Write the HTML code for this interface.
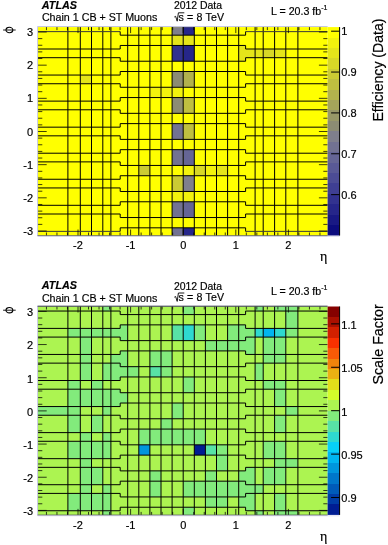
<!DOCTYPE html><html><head><meta charset="utf-8"><style>html,body{margin:0;padding:0;background:#fff;}svg{display:block;will-change:transform;font-family:"Liberation Sans",sans-serif;}text{fill:#000;stroke:#000;stroke-width:0.18px;}</style></head><body>
<svg width="388" height="545" viewBox="0 0 388 545">
<rect width="388" height="545" fill="#fff"/>
<rect x="38.00" y="27.10" width="289.60" height="208.40" fill="#ffff00"/>
<polygon fill="#7f7f8c" points="172.10,27.10 183.20,27.10 183.20,35.18 172.10,35.18"/>
<polygon fill="#26268a" points="183.20,27.10 194.30,27.10 194.30,35.18 183.20,35.18"/>
<polygon fill="#e5e51a" points="172.10,35.18 183.20,35.18 183.20,45.46 172.10,45.46"/>
<polygon fill="#e5e51a" points="183.20,35.18 194.30,35.18 194.30,45.46 183.20,45.46"/>
<polygon fill="#32328f" points="172.10,45.46 183.20,45.46 183.20,61.23 172.10,61.23"/>
<polygon fill="#26268a" points="183.20,45.46 194.30,45.46 194.30,61.23 183.20,61.23"/>
<polygon fill="#8c8c73" points="172.10,71.51 183.20,71.51 183.20,87.28 172.10,87.28"/>
<polygon fill="#b2b24d" points="183.20,71.51 194.30,71.51 194.30,87.28 183.20,87.28"/>
<polygon fill="#f2f20d" points="172.10,87.28 183.20,87.28 183.20,97.56 172.10,97.56"/>
<polygon fill="#ffff00" points="183.20,87.28 194.30,87.28 194.30,97.56 183.20,97.56"/>
<polygon fill="#8c8c73" points="172.10,97.56 183.20,97.56 183.20,113.33 172.10,113.33"/>
<polygon fill="#bfbf40" points="183.20,97.56 194.30,97.56 194.30,113.33 183.20,113.33"/>
<polygon fill="#727292" points="172.10,123.62 183.20,123.62 183.20,139.38 172.10,139.38"/>
<polygon fill="#bfbf40" points="183.20,123.62 194.30,123.62 194.30,139.38 183.20,139.38"/>
<polygon fill="#727292" points="172.10,149.67 183.20,149.67 183.20,165.44 172.10,165.44"/>
<polygon fill="#656595" points="183.20,149.67 194.30,149.67 194.30,165.44 183.20,165.44"/>
<polygon fill="#ffff00" points="172.10,165.44 183.20,165.44 183.20,175.72 172.10,175.72"/>
<polygon fill="#f2f20d" points="183.20,165.44 194.30,165.44 194.30,175.72 183.20,175.72"/>
<polygon fill="#cbcb34" points="172.10,175.72 183.20,175.72 183.20,191.49 172.10,191.49"/>
<polygon fill="#7f7f8c" points="183.20,175.72 194.30,175.72 194.30,191.49 183.20,191.49"/>
<polygon fill="#f2f20d" points="172.10,191.49 183.20,191.49 183.20,201.77 172.10,201.77"/>
<polygon fill="#f2f20d" points="183.20,191.49 194.30,191.49 194.30,201.77 183.20,201.77"/>
<polygon fill="#727292" points="172.10,201.77 183.20,201.77 183.20,217.54 172.10,217.54"/>
<polygon fill="#656595" points="183.20,201.77 194.30,201.77 194.30,217.54 183.20,217.54"/>
<polygon fill="#727292" points="172.10,227.82 183.20,227.82 183.20,235.50 172.10,235.50"/>
<polygon fill="#26268a" points="183.20,227.82 194.30,227.82 194.30,235.50 183.20,235.50"/>
<polygon fill="#f2f20d" points="149.90,87.28 161.00,87.28 161.00,97.56 149.90,97.56"/>
<polygon fill="#f2f20d" points="161.00,87.28 172.10,87.28 172.10,97.56 161.00,97.56"/>
<polygon fill="#d8d827" points="194.30,165.44 205.40,165.44 205.40,175.72 194.30,175.72"/>
<polygon fill="#f2f20d" points="205.40,165.44 216.50,165.44 216.50,175.72 205.40,175.72"/>
<polygon fill="#e5e51a" points="216.50,165.44 227.60,165.44 227.60,175.72 216.50,175.72"/>
<polygon fill="#cbcb34" points="138.80,165.44 149.90,165.44 149.90,175.72 138.80,175.72"/>
<polygon fill="#e5e51a" points="80.30,75.05 91.50,75.05 91.50,83.74 80.30,83.74"/>
<polygon fill="#e5e51a" points="238.70,45.46 245.60,45.46 245.60,49.00 255.10,49.00 255.10,57.69 245.60,57.69 245.60,61.23 238.70,61.23"/>
<polygon fill="#e5e51a" points="255.10,49.00 263.20,49.00 263.20,57.69 255.10,57.69"/>
<polygon fill="#d8d827" points="263.20,49.00 274.60,49.00 274.60,57.69 263.20,57.69"/>
<polygon fill="#e5e51a" points="274.60,49.00 285.80,49.00 285.80,57.69 274.60,57.69"/>
<line x1="67.90" y1="27.10" x2="67.90" y2="235.50" stroke="#000" stroke-width="1.00"/>
<line x1="80.30" y1="27.10" x2="80.30" y2="235.50" stroke="#000" stroke-width="1.00"/>
<line x1="91.50" y1="27.10" x2="91.50" y2="235.50" stroke="#000" stroke-width="1.00"/>
<line x1="102.80" y1="27.10" x2="102.80" y2="235.50" stroke="#000" stroke-width="1.00"/>
<line x1="110.90" y1="27.10" x2="110.90" y2="235.50" stroke="#000" stroke-width="1.00"/>
<line x1="127.70" y1="27.10" x2="127.70" y2="235.50" stroke="#000" stroke-width="1.00"/>
<line x1="138.80" y1="27.10" x2="138.80" y2="235.50" stroke="#000" stroke-width="1.00"/>
<line x1="149.90" y1="27.10" x2="149.90" y2="235.50" stroke="#000" stroke-width="1.00"/>
<line x1="161.00" y1="27.10" x2="161.00" y2="235.50" stroke="#000" stroke-width="1.00"/>
<line x1="172.10" y1="27.10" x2="172.10" y2="235.50" stroke="#000" stroke-width="1.00"/>
<line x1="183.20" y1="27.10" x2="183.20" y2="235.50" stroke="#000" stroke-width="1.00"/>
<line x1="194.30" y1="27.10" x2="194.30" y2="235.50" stroke="#000" stroke-width="1.00"/>
<line x1="205.40" y1="27.10" x2="205.40" y2="235.50" stroke="#000" stroke-width="1.00"/>
<line x1="216.50" y1="27.10" x2="216.50" y2="235.50" stroke="#000" stroke-width="1.00"/>
<line x1="227.60" y1="27.10" x2="227.60" y2="235.50" stroke="#000" stroke-width="1.00"/>
<line x1="238.70" y1="27.10" x2="238.70" y2="235.50" stroke="#000" stroke-width="1.00"/>
<line x1="255.10" y1="27.10" x2="255.10" y2="235.50" stroke="#000" stroke-width="1.00"/>
<line x1="263.20" y1="27.10" x2="263.20" y2="235.50" stroke="#000" stroke-width="1.00"/>
<line x1="274.60" y1="27.10" x2="274.60" y2="235.50" stroke="#000" stroke-width="1.00"/>
<line x1="285.80" y1="27.10" x2="285.80" y2="235.50" stroke="#000" stroke-width="1.00"/>
<line x1="297.90" y1="27.10" x2="297.90" y2="235.50" stroke="#000" stroke-width="1.00"/>
<polyline fill="none" stroke="#3a3a3a" stroke-width="1.00" points="38.00,31.64 120.20,31.64"/>
<polyline fill="none" stroke="#3a3a3a" stroke-width="1.00" points="245.60,31.64 327.60,31.64"/>
<polyline fill="none" stroke="#000" stroke-width="1.00" points="120.20,31.64 120.20,35.18 245.60,35.18 245.60,31.64"/>
<polyline fill="none" stroke="#000" stroke-width="1.00" points="38.00,49.00 120.20,49.00 120.20,45.46 245.60,45.46 245.60,49.00 327.60,49.00"/>
<polyline fill="none" stroke="#000" stroke-width="1.00" points="38.00,57.69 120.20,57.69 120.20,61.23 245.60,61.23 245.60,57.69 327.60,57.69"/>
<polyline fill="none" stroke="#000" stroke-width="1.00" points="38.00,75.05 120.20,75.05 120.20,71.51 245.60,71.51 245.60,75.05 327.60,75.05"/>
<polyline fill="none" stroke="#000" stroke-width="1.00" points="38.00,83.74 120.20,83.74 120.20,87.28 245.60,87.28 245.60,83.74 327.60,83.74"/>
<polyline fill="none" stroke="#000" stroke-width="1.00" points="38.00,101.11 120.20,101.11 120.20,97.56 245.60,97.56 245.60,101.11 327.60,101.11"/>
<polyline fill="none" stroke="#000" stroke-width="1.00" points="38.00,109.79 120.20,109.79 120.20,113.33 245.60,113.33 245.60,109.79 327.60,109.79"/>
<polyline fill="none" stroke="#000" stroke-width="1.00" points="38.00,127.16 120.20,127.16 120.20,123.62 245.60,123.62 245.60,127.16 327.60,127.16"/>
<polyline fill="none" stroke="#000" stroke-width="1.00" points="38.00,135.84 120.20,135.84 120.20,139.38 245.60,139.38 245.60,135.84 327.60,135.84"/>
<polyline fill="none" stroke="#000" stroke-width="1.00" points="38.00,153.21 120.20,153.21 120.20,149.67 245.60,149.67 245.60,153.21 327.60,153.21"/>
<polyline fill="none" stroke="#000" stroke-width="1.00" points="38.00,161.89 120.20,161.89 120.20,165.44 245.60,165.44 245.60,161.89 327.60,161.89"/>
<polyline fill="none" stroke="#000" stroke-width="1.00" points="38.00,179.26 120.20,179.26 120.20,175.72 245.60,175.72 245.60,179.26 327.60,179.26"/>
<polyline fill="none" stroke="#000" stroke-width="1.00" points="38.00,187.95 120.20,187.95 120.20,191.49 245.60,191.49 245.60,187.95 327.60,187.95"/>
<polyline fill="none" stroke="#000" stroke-width="1.00" points="38.00,205.31 120.20,205.31 120.20,201.77 245.60,201.77 245.60,205.31 327.60,205.31"/>
<polyline fill="none" stroke="#000" stroke-width="1.00" points="38.00,214.00 120.20,214.00 120.20,217.54 245.60,217.54 245.60,214.00 327.60,214.00"/>
<polyline fill="none" stroke="#3a3a3a" stroke-width="1.00" points="38.00,231.36 120.20,231.36"/>
<polyline fill="none" stroke="#3a3a3a" stroke-width="1.00" points="245.60,231.36 327.60,231.36"/>
<polyline fill="none" stroke="#000" stroke-width="1.00" points="120.20,231.36 120.20,227.82 245.60,227.82 245.60,231.36"/>
<line x1="38.00" y1="231.01" x2="46.70" y2="231.01" stroke="#000" stroke-width="0.75"/>
<line x1="327.60" y1="231.01" x2="318.90" y2="231.01" stroke="#000" stroke-width="0.75"/>
<line x1="38.00" y1="224.38" x2="42.30" y2="224.38" stroke="#000" stroke-width="0.75"/>
<line x1="327.60" y1="224.38" x2="323.30" y2="224.38" stroke="#000" stroke-width="0.75"/>
<line x1="38.00" y1="217.74" x2="42.30" y2="217.74" stroke="#000" stroke-width="0.75"/>
<line x1="327.60" y1="217.74" x2="323.30" y2="217.74" stroke="#000" stroke-width="0.75"/>
<line x1="38.00" y1="211.11" x2="42.30" y2="211.11" stroke="#000" stroke-width="0.75"/>
<line x1="327.60" y1="211.11" x2="323.30" y2="211.11" stroke="#000" stroke-width="0.75"/>
<line x1="38.00" y1="204.47" x2="42.30" y2="204.47" stroke="#000" stroke-width="0.75"/>
<line x1="327.60" y1="204.47" x2="323.30" y2="204.47" stroke="#000" stroke-width="0.75"/>
<line x1="38.00" y1="197.84" x2="46.70" y2="197.84" stroke="#000" stroke-width="0.75"/>
<line x1="327.60" y1="197.84" x2="318.90" y2="197.84" stroke="#000" stroke-width="0.75"/>
<line x1="38.00" y1="191.21" x2="42.30" y2="191.21" stroke="#000" stroke-width="0.75"/>
<line x1="327.60" y1="191.21" x2="323.30" y2="191.21" stroke="#000" stroke-width="0.75"/>
<line x1="38.00" y1="184.57" x2="42.30" y2="184.57" stroke="#000" stroke-width="0.75"/>
<line x1="327.60" y1="184.57" x2="323.30" y2="184.57" stroke="#000" stroke-width="0.75"/>
<line x1="38.00" y1="177.94" x2="42.30" y2="177.94" stroke="#000" stroke-width="0.75"/>
<line x1="327.60" y1="177.94" x2="323.30" y2="177.94" stroke="#000" stroke-width="0.75"/>
<line x1="38.00" y1="171.30" x2="42.30" y2="171.30" stroke="#000" stroke-width="0.75"/>
<line x1="327.60" y1="171.30" x2="323.30" y2="171.30" stroke="#000" stroke-width="0.75"/>
<line x1="38.00" y1="164.67" x2="46.70" y2="164.67" stroke="#000" stroke-width="0.75"/>
<line x1="327.60" y1="164.67" x2="318.90" y2="164.67" stroke="#000" stroke-width="0.75"/>
<line x1="38.00" y1="158.04" x2="42.30" y2="158.04" stroke="#000" stroke-width="0.75"/>
<line x1="327.60" y1="158.04" x2="323.30" y2="158.04" stroke="#000" stroke-width="0.75"/>
<line x1="38.00" y1="151.40" x2="42.30" y2="151.40" stroke="#000" stroke-width="0.75"/>
<line x1="327.60" y1="151.40" x2="323.30" y2="151.40" stroke="#000" stroke-width="0.75"/>
<line x1="38.00" y1="144.77" x2="42.30" y2="144.77" stroke="#000" stroke-width="0.75"/>
<line x1="327.60" y1="144.77" x2="323.30" y2="144.77" stroke="#000" stroke-width="0.75"/>
<line x1="38.00" y1="138.13" x2="42.30" y2="138.13" stroke="#000" stroke-width="0.75"/>
<line x1="327.60" y1="138.13" x2="323.30" y2="138.13" stroke="#000" stroke-width="0.75"/>
<line x1="38.00" y1="131.50" x2="46.70" y2="131.50" stroke="#000" stroke-width="0.75"/>
<line x1="327.60" y1="131.50" x2="318.90" y2="131.50" stroke="#000" stroke-width="0.75"/>
<line x1="38.00" y1="124.87" x2="42.30" y2="124.87" stroke="#000" stroke-width="0.75"/>
<line x1="327.60" y1="124.87" x2="323.30" y2="124.87" stroke="#000" stroke-width="0.75"/>
<line x1="38.00" y1="118.23" x2="42.30" y2="118.23" stroke="#000" stroke-width="0.75"/>
<line x1="327.60" y1="118.23" x2="323.30" y2="118.23" stroke="#000" stroke-width="0.75"/>
<line x1="38.00" y1="111.60" x2="42.30" y2="111.60" stroke="#000" stroke-width="0.75"/>
<line x1="327.60" y1="111.60" x2="323.30" y2="111.60" stroke="#000" stroke-width="0.75"/>
<line x1="38.00" y1="104.96" x2="42.30" y2="104.96" stroke="#000" stroke-width="0.75"/>
<line x1="327.60" y1="104.96" x2="323.30" y2="104.96" stroke="#000" stroke-width="0.75"/>
<line x1="38.00" y1="98.33" x2="46.70" y2="98.33" stroke="#000" stroke-width="0.75"/>
<line x1="327.60" y1="98.33" x2="318.90" y2="98.33" stroke="#000" stroke-width="0.75"/>
<line x1="38.00" y1="91.70" x2="42.30" y2="91.70" stroke="#000" stroke-width="0.75"/>
<line x1="327.60" y1="91.70" x2="323.30" y2="91.70" stroke="#000" stroke-width="0.75"/>
<line x1="38.00" y1="85.06" x2="42.30" y2="85.06" stroke="#000" stroke-width="0.75"/>
<line x1="327.60" y1="85.06" x2="323.30" y2="85.06" stroke="#000" stroke-width="0.75"/>
<line x1="38.00" y1="78.43" x2="42.30" y2="78.43" stroke="#000" stroke-width="0.75"/>
<line x1="327.60" y1="78.43" x2="323.30" y2="78.43" stroke="#000" stroke-width="0.75"/>
<line x1="38.00" y1="71.79" x2="42.30" y2="71.79" stroke="#000" stroke-width="0.75"/>
<line x1="327.60" y1="71.79" x2="323.30" y2="71.79" stroke="#000" stroke-width="0.75"/>
<line x1="38.00" y1="65.16" x2="46.70" y2="65.16" stroke="#000" stroke-width="0.75"/>
<line x1="327.60" y1="65.16" x2="318.90" y2="65.16" stroke="#000" stroke-width="0.75"/>
<line x1="38.00" y1="58.53" x2="42.30" y2="58.53" stroke="#000" stroke-width="0.75"/>
<line x1="327.60" y1="58.53" x2="323.30" y2="58.53" stroke="#000" stroke-width="0.75"/>
<line x1="38.00" y1="51.89" x2="42.30" y2="51.89" stroke="#000" stroke-width="0.75"/>
<line x1="327.60" y1="51.89" x2="323.30" y2="51.89" stroke="#000" stroke-width="0.75"/>
<line x1="38.00" y1="45.26" x2="42.30" y2="45.26" stroke="#000" stroke-width="0.75"/>
<line x1="327.60" y1="45.26" x2="323.30" y2="45.26" stroke="#000" stroke-width="0.75"/>
<line x1="38.00" y1="38.62" x2="42.30" y2="38.62" stroke="#000" stroke-width="0.75"/>
<line x1="327.60" y1="38.62" x2="323.30" y2="38.62" stroke="#000" stroke-width="0.75"/>
<line x1="38.00" y1="31.99" x2="46.70" y2="31.99" stroke="#000" stroke-width="0.75"/>
<line x1="327.60" y1="31.99" x2="318.90" y2="31.99" stroke="#000" stroke-width="0.75"/>
<line x1="46.44" y1="235.50" x2="46.44" y2="232.50" stroke="#000" stroke-width="0.75"/>
<line x1="46.44" y1="27.10" x2="46.44" y2="30.10" stroke="#000" stroke-width="0.75"/>
<line x1="56.96" y1="235.50" x2="56.96" y2="232.50" stroke="#000" stroke-width="0.75"/>
<line x1="56.96" y1="27.10" x2="56.96" y2="30.10" stroke="#000" stroke-width="0.75"/>
<line x1="67.48" y1="235.50" x2="67.48" y2="232.50" stroke="#000" stroke-width="0.75"/>
<line x1="67.48" y1="27.10" x2="67.48" y2="30.10" stroke="#000" stroke-width="0.75"/>
<line x1="78.00" y1="235.50" x2="78.00" y2="229.50" stroke="#000" stroke-width="0.75"/>
<line x1="78.00" y1="27.10" x2="78.00" y2="33.10" stroke="#000" stroke-width="0.75"/>
<line x1="88.52" y1="235.50" x2="88.52" y2="232.50" stroke="#000" stroke-width="0.75"/>
<line x1="88.52" y1="27.10" x2="88.52" y2="30.10" stroke="#000" stroke-width="0.75"/>
<line x1="99.04" y1="235.50" x2="99.04" y2="232.50" stroke="#000" stroke-width="0.75"/>
<line x1="99.04" y1="27.10" x2="99.04" y2="30.10" stroke="#000" stroke-width="0.75"/>
<line x1="109.56" y1="235.50" x2="109.56" y2="232.50" stroke="#000" stroke-width="0.75"/>
<line x1="109.56" y1="27.10" x2="109.56" y2="30.10" stroke="#000" stroke-width="0.75"/>
<line x1="120.08" y1="235.50" x2="120.08" y2="232.50" stroke="#000" stroke-width="0.75"/>
<line x1="120.08" y1="27.10" x2="120.08" y2="30.10" stroke="#000" stroke-width="0.75"/>
<line x1="130.60" y1="235.50" x2="130.60" y2="229.50" stroke="#000" stroke-width="0.75"/>
<line x1="130.60" y1="27.10" x2="130.60" y2="33.10" stroke="#000" stroke-width="0.75"/>
<line x1="141.12" y1="235.50" x2="141.12" y2="232.50" stroke="#000" stroke-width="0.75"/>
<line x1="141.12" y1="27.10" x2="141.12" y2="30.10" stroke="#000" stroke-width="0.75"/>
<line x1="151.64" y1="235.50" x2="151.64" y2="232.50" stroke="#000" stroke-width="0.75"/>
<line x1="151.64" y1="27.10" x2="151.64" y2="30.10" stroke="#000" stroke-width="0.75"/>
<line x1="162.16" y1="235.50" x2="162.16" y2="232.50" stroke="#000" stroke-width="0.75"/>
<line x1="162.16" y1="27.10" x2="162.16" y2="30.10" stroke="#000" stroke-width="0.75"/>
<line x1="172.68" y1="235.50" x2="172.68" y2="232.50" stroke="#000" stroke-width="0.75"/>
<line x1="172.68" y1="27.10" x2="172.68" y2="30.10" stroke="#000" stroke-width="0.75"/>
<line x1="183.20" y1="235.50" x2="183.20" y2="229.50" stroke="#000" stroke-width="0.75"/>
<line x1="183.20" y1="27.10" x2="183.20" y2="33.10" stroke="#000" stroke-width="0.75"/>
<line x1="193.72" y1="235.50" x2="193.72" y2="232.50" stroke="#000" stroke-width="0.75"/>
<line x1="193.72" y1="27.10" x2="193.72" y2="30.10" stroke="#000" stroke-width="0.75"/>
<line x1="204.24" y1="235.50" x2="204.24" y2="232.50" stroke="#000" stroke-width="0.75"/>
<line x1="204.24" y1="27.10" x2="204.24" y2="30.10" stroke="#000" stroke-width="0.75"/>
<line x1="214.76" y1="235.50" x2="214.76" y2="232.50" stroke="#000" stroke-width="0.75"/>
<line x1="214.76" y1="27.10" x2="214.76" y2="30.10" stroke="#000" stroke-width="0.75"/>
<line x1="225.28" y1="235.50" x2="225.28" y2="232.50" stroke="#000" stroke-width="0.75"/>
<line x1="225.28" y1="27.10" x2="225.28" y2="30.10" stroke="#000" stroke-width="0.75"/>
<line x1="235.80" y1="235.50" x2="235.80" y2="229.50" stroke="#000" stroke-width="0.75"/>
<line x1="235.80" y1="27.10" x2="235.80" y2="33.10" stroke="#000" stroke-width="0.75"/>
<line x1="246.32" y1="235.50" x2="246.32" y2="232.50" stroke="#000" stroke-width="0.75"/>
<line x1="246.32" y1="27.10" x2="246.32" y2="30.10" stroke="#000" stroke-width="0.75"/>
<line x1="256.84" y1="235.50" x2="256.84" y2="232.50" stroke="#000" stroke-width="0.75"/>
<line x1="256.84" y1="27.10" x2="256.84" y2="30.10" stroke="#000" stroke-width="0.75"/>
<line x1="267.36" y1="235.50" x2="267.36" y2="232.50" stroke="#000" stroke-width="0.75"/>
<line x1="267.36" y1="27.10" x2="267.36" y2="30.10" stroke="#000" stroke-width="0.75"/>
<line x1="277.88" y1="235.50" x2="277.88" y2="232.50" stroke="#000" stroke-width="0.75"/>
<line x1="277.88" y1="27.10" x2="277.88" y2="30.10" stroke="#000" stroke-width="0.75"/>
<line x1="288.40" y1="235.50" x2="288.40" y2="229.50" stroke="#000" stroke-width="0.75"/>
<line x1="288.40" y1="27.10" x2="288.40" y2="33.10" stroke="#000" stroke-width="0.75"/>
<line x1="298.92" y1="235.50" x2="298.92" y2="232.50" stroke="#000" stroke-width="0.75"/>
<line x1="298.92" y1="27.10" x2="298.92" y2="30.10" stroke="#000" stroke-width="0.75"/>
<line x1="309.44" y1="235.50" x2="309.44" y2="232.50" stroke="#000" stroke-width="0.75"/>
<line x1="309.44" y1="27.10" x2="309.44" y2="30.10" stroke="#000" stroke-width="0.75"/>
<line x1="319.96" y1="235.50" x2="319.96" y2="232.50" stroke="#000" stroke-width="0.75"/>
<line x1="319.96" y1="27.10" x2="319.96" y2="30.10" stroke="#000" stroke-width="0.75"/>
<line x1="37.60" y1="26.50" x2="37.60" y2="235.90" stroke="#b8b8d8" stroke-width="0.80"/>
<line x1="37.60" y1="26.50" x2="327.60" y2="26.50" stroke="#b8b8d8" stroke-width="0.80"/>
<line x1="37.60" y1="235.70" x2="327.60" y2="235.70" stroke="#404050" stroke-width="0.80"/>
<line x1="37.60" y1="236.40" x2="339.60" y2="236.40" stroke="#c8c8e0" stroke-width="0.60"/>
<defs><linearGradient id="g0" x1="0" y1="1" x2="0" y2="0"><stop offset="0.000%" stop-color="#0c0c7e"/><stop offset="5.000%" stop-color="#0c0c7e"/><stop offset="5.000%" stop-color="#191984"/><stop offset="10.000%" stop-color="#191984"/><stop offset="10.000%" stop-color="#26268a"/><stop offset="15.000%" stop-color="#26268a"/><stop offset="15.000%" stop-color="#32328f"/><stop offset="20.000%" stop-color="#32328f"/><stop offset="20.000%" stop-color="#3f3f93"/><stop offset="25.000%" stop-color="#3f3f93"/><stop offset="25.000%" stop-color="#4c4c95"/><stop offset="30.000%" stop-color="#4c4c95"/><stop offset="30.000%" stop-color="#595996"/><stop offset="35.000%" stop-color="#595996"/><stop offset="35.000%" stop-color="#656595"/><stop offset="40.000%" stop-color="#656595"/><stop offset="40.000%" stop-color="#727292"/><stop offset="45.000%" stop-color="#727292"/><stop offset="45.000%" stop-color="#7f7f8c"/><stop offset="50.000%" stop-color="#7f7f8c"/><stop offset="50.000%" stop-color="#8c8c73"/><stop offset="55.000%" stop-color="#8c8c73"/><stop offset="55.000%" stop-color="#989867"/><stop offset="60.000%" stop-color="#989867"/><stop offset="60.000%" stop-color="#a5a55a"/><stop offset="65.000%" stop-color="#a5a55a"/><stop offset="65.000%" stop-color="#b2b24d"/><stop offset="70.000%" stop-color="#b2b24d"/><stop offset="70.000%" stop-color="#bfbf40"/><stop offset="75.000%" stop-color="#bfbf40"/><stop offset="75.000%" stop-color="#cbcb34"/><stop offset="80.000%" stop-color="#cbcb34"/><stop offset="80.000%" stop-color="#d8d827"/><stop offset="85.000%" stop-color="#d8d827"/><stop offset="85.000%" stop-color="#e5e51a"/><stop offset="90.000%" stop-color="#e5e51a"/><stop offset="90.000%" stop-color="#f2f20d"/><stop offset="95.000%" stop-color="#f2f20d"/><stop offset="95.000%" stop-color="#ffff00"/><stop offset="100.000%" stop-color="#ffff00"/></linearGradient></defs>
<rect x="327.60" y="27.10" width="12.00" height="208.40" fill="url(#g0)"/>
<line x1="339.60" y1="27.10" x2="339.60" y2="235.50" stroke="#000" stroke-width="1.00"/>
<line x1="339.60" y1="31.19" x2="331.10" y2="31.19" stroke="#000" stroke-width="1.00"/>
<text x="341.30" y="35.19" font-size="11.00" text-anchor="start" font-weight="normal" font-style="normal">1</text>
<line x1="339.60" y1="72.05" x2="331.10" y2="72.05" stroke="#000" stroke-width="1.00"/>
<text x="341.30" y="76.05" font-size="11.00" text-anchor="start" font-weight="normal" font-style="normal">0.9</text>
<line x1="339.60" y1="112.91" x2="331.10" y2="112.91" stroke="#000" stroke-width="1.00"/>
<text x="341.30" y="116.91" font-size="11.00" text-anchor="start" font-weight="normal" font-style="normal">0.8</text>
<line x1="339.60" y1="153.77" x2="331.10" y2="153.77" stroke="#000" stroke-width="1.00"/>
<text x="341.30" y="157.77" font-size="11.00" text-anchor="start" font-weight="normal" font-style="normal">0.7</text>
<line x1="339.60" y1="194.64" x2="331.10" y2="194.64" stroke="#000" stroke-width="1.00"/>
<text x="341.30" y="198.64" font-size="11.00" text-anchor="start" font-weight="normal" font-style="normal">0.6</text>
<text transform="translate(382.60,121.60) rotate(-90)" font-size="14.10">Efficiency (Data)</text>
<text x="33.00" y="35.99" font-size="11.00" text-anchor="end" font-weight="normal" font-style="normal">3</text>
<text x="33.00" y="69.16" font-size="11.00" text-anchor="end" font-weight="normal" font-style="normal">2</text>
<text x="33.00" y="102.33" font-size="11.00" text-anchor="end" font-weight="normal" font-style="normal">1</text>
<text x="33.00" y="135.50" font-size="11.00" text-anchor="end" font-weight="normal" font-style="normal">0</text>
<text x="33.00" y="168.67" font-size="11.00" text-anchor="end" font-weight="normal" font-style="normal">-1</text>
<text x="33.00" y="201.84" font-size="11.00" text-anchor="end" font-weight="normal" font-style="normal">-2</text>
<text x="33.00" y="235.01" font-size="11.00" text-anchor="end" font-weight="normal" font-style="normal">-3</text>
<text x="78.00" y="248.80" font-size="11.00" text-anchor="middle" font-weight="normal" font-style="normal">-2</text>
<text x="130.60" y="248.80" font-size="11.00" text-anchor="middle" font-weight="normal" font-style="normal">-1</text>
<text x="183.20" y="248.80" font-size="11.00" text-anchor="middle" font-weight="normal" font-style="normal">0</text>
<text x="235.80" y="248.80" font-size="11.00" text-anchor="middle" font-weight="normal" font-style="normal">1</text>
<text x="288.40" y="248.80" font-size="11.00" text-anchor="middle" font-weight="normal" font-style="normal">2</text>
<g transform="translate(9.4,30.00)"><ellipse cx="0" cy="0" rx="3.4" ry="2.7" fill="none" stroke="#000" stroke-width="1.1"/><line x1="-6.3" y1="0" x2="6.3" y2="0" stroke="#000" stroke-width="0.9"/></g>
<text x="320.0" y="261.20" font-size="14" font-family="Liberation Serif, serif">&#951;</text>
<text x="41.80" y="8.80" font-size="10.80" text-anchor="start" font-weight="bold" font-style="italic">ATLAS</text>
<text x="41.90" y="21.40" font-size="10.70" text-anchor="start" font-weight="normal" font-style="normal">Chain 1 CB + ST Muons</text>
<text x="173.90" y="9.40" font-size="10.45" text-anchor="start" font-weight="normal" font-style="normal">2012 Data</text>
<polyline fill="none" stroke="#000" stroke-width="0.9" points="174.30,17.00 175.60,16.30 177.20,21.20 178.40,12.80 184.30,12.80"/>
<text x="178.50" y="21.20" font-size="10.65" text-anchor="start" font-weight="normal" font-style="normal" letter-spacing="0.15">s = 8 TeV</text>
<text x="271.00" y="14.90" font-size="10.65" text-anchor="start" font-weight="normal" font-style="normal">L = 20.3 fb<tspan font-size="7" dy="-5.2">-1</tspan></text>
<rect x="38.00" y="306.50" width="289.60" height="208.40" fill="#acf451"/>
<polygon fill="#82eb7c" points="38.00,406.56 67.90,406.56 67.90,415.24 38.00,415.24"/>
<polygon fill="#82eb7c" points="67.90,328.40 80.30,328.40 80.30,337.09 67.90,337.09"/>
<polygon fill="#82eb7c" points="67.90,380.51 80.30,380.51 80.30,389.19 67.90,389.19"/>
<polygon fill="#82eb7c" points="67.90,389.19 80.30,389.19 80.30,406.56 67.90,406.56"/>
<polygon fill="#82eb7c" points="67.90,406.56 80.30,406.56 80.30,415.24 67.90,415.24"/>
<polygon fill="#82eb7c" points="67.90,415.24 80.30,415.24 80.30,432.61 67.90,432.61"/>
<polygon fill="#82eb7c" points="67.90,441.29 80.30,441.29 80.30,458.66 67.90,458.66"/>
<polygon fill="#82eb7c" points="67.90,493.40 80.30,493.40 80.30,510.76 67.90,510.76"/>
<polygon fill="#82eb7c" points="80.30,328.40 91.50,328.40 91.50,337.09 80.30,337.09"/>
<polygon fill="#82eb7c" points="80.30,337.09 91.50,337.09 91.50,354.45 80.30,354.45"/>
<polygon fill="#82eb7c" points="80.30,354.45 91.50,354.45 91.50,363.14 80.30,363.14"/>
<polygon fill="#82eb7c" points="80.30,363.14 91.50,363.14 91.50,380.51 80.30,380.51"/>
<polygon fill="#82eb7c" points="80.30,389.19 91.50,389.19 91.50,406.56 80.30,406.56"/>
<polygon fill="#82eb7c" points="80.30,432.61 91.50,432.61 91.50,441.29 80.30,441.29"/>
<polygon fill="#82eb7c" points="80.30,441.29 91.50,441.29 91.50,458.66 80.30,458.66"/>
<polygon fill="#82eb7c" points="80.30,458.66 91.50,458.66 91.50,467.35 80.30,467.35"/>
<polygon fill="#82eb7c" points="80.30,467.35 91.50,467.35 91.50,484.71 80.30,484.71"/>
<polygon fill="#82eb7c" points="80.30,484.71 91.50,484.71 91.50,493.40 80.30,493.40"/>
<polygon fill="#82eb7c" points="80.30,493.40 91.50,493.40 91.50,510.76 80.30,510.76"/>
<polygon fill="#82eb7c" points="91.50,328.40 102.80,328.40 102.80,337.09 91.50,337.09"/>
<polygon fill="#82eb7c" points="91.50,380.51 102.80,380.51 102.80,389.19 91.50,389.19"/>
<polygon fill="#82eb7c" points="91.50,389.19 102.80,389.19 102.80,406.56 91.50,406.56"/>
<polygon fill="#82eb7c" points="91.50,415.24 102.80,415.24 102.80,432.61 91.50,432.61"/>
<polygon fill="#82eb7c" points="91.50,441.29 102.80,441.29 102.80,458.66 91.50,458.66"/>
<polygon fill="#82eb7c" points="91.50,467.35 102.80,467.35 102.80,484.71 91.50,484.71"/>
<polygon fill="#82eb7c" points="91.50,493.40 102.80,493.40 102.80,510.76 91.50,510.76"/>
<polygon fill="#82eb7c" points="102.80,306.50 110.90,306.50 110.90,311.04 102.80,311.04"/>
<polygon fill="#82eb7c" points="102.80,328.40 110.90,328.40 110.90,337.09 102.80,337.09"/>
<polygon fill="#82eb7c" points="102.80,363.14 110.90,363.14 110.90,380.51 102.80,380.51"/>
<polygon fill="#82eb7c" points="102.80,389.19 110.90,389.19 110.90,406.56 102.80,406.56"/>
<polygon fill="#82eb7c" points="102.80,406.56 110.90,406.56 110.90,415.24 102.80,415.24"/>
<polygon fill="#82eb7c" points="102.80,432.61 110.90,432.61 110.90,441.29 102.80,441.29"/>
<polygon fill="#82eb7c" points="102.80,441.29 110.90,441.29 110.90,458.66 102.80,458.66"/>
<polygon fill="#82eb7c" points="102.80,484.71 110.90,484.71 110.90,493.40 102.80,493.40"/>
<polygon fill="#82eb7c" points="102.80,493.40 110.90,493.40 110.90,510.76 102.80,510.76"/>
<polygon fill="#82eb7c" points="102.80,510.76 110.90,510.76 110.90,514.90 102.80,514.90"/>
<polygon fill="#82eb7c" points="110.90,328.40 120.20,328.40 120.20,324.86 127.70,324.86 127.70,340.63 120.20,340.63 120.20,337.09 110.90,337.09"/>
<polygon fill="#82eb7c" points="110.90,354.45 120.20,354.45 120.20,350.91 127.70,350.91 127.70,366.68 120.20,366.68 120.20,363.14 110.90,363.14"/>
<polygon fill="#82eb7c" points="110.90,363.14 120.20,363.14 120.20,366.68 127.70,366.68 127.70,376.96 120.20,376.96 120.20,380.51 110.90,380.51"/>
<polygon fill="#82eb7c" points="110.90,389.19 120.20,389.19 120.20,392.73 127.70,392.73 127.70,403.02 120.20,403.02 120.20,406.56 110.90,406.56"/>
<polygon fill="#82eb7c" points="127.70,366.68 138.80,366.68 138.80,376.96 127.70,376.96"/>
<polygon fill="#82eb7c" points="138.80,429.07 149.90,429.07 149.90,444.84 138.80,444.84"/>
<polygon fill="#0096dd" points="138.80,444.84 149.90,444.84 149.90,455.12 138.80,455.12"/>
<polygon fill="#82eb7c" points="149.90,350.91 161.00,350.91 161.00,366.68 149.90,366.68"/>
<polygon fill="#82eb7c" points="149.90,429.07 161.00,429.07 161.00,444.84 149.90,444.84"/>
<polygon fill="#82eb7c" points="149.90,470.89 161.00,470.89 161.00,481.17 149.90,481.17"/>
<polygon fill="#82eb7c" points="149.90,481.17 161.00,481.17 161.00,496.94 149.90,496.94"/>
<polygon fill="#58e2a6" points="149.90,366.68 161.00,366.68 161.00,376.96 149.90,376.96"/>
<polygon fill="#82eb7c" points="161.00,350.91 172.10,350.91 172.10,366.68 161.00,366.68"/>
<polygon fill="#82eb7c" points="161.00,366.68 172.10,366.68 172.10,376.96 161.00,376.96"/>
<polygon fill="#82eb7c" points="161.00,418.78 172.10,418.78 172.10,429.07 161.00,429.07"/>
<polygon fill="#82eb7c" points="161.00,429.07 172.10,429.07 172.10,444.84 161.00,444.84"/>
<polygon fill="#58e2a6" points="172.10,324.86 183.20,324.86 183.20,340.63 172.10,340.63"/>
<polygon fill="#82eb7c" points="172.10,403.02 183.20,403.02 183.20,418.78 172.10,418.78"/>
<polygon fill="#82eb7c" points="172.10,429.07 183.20,429.07 183.20,444.84 172.10,444.84"/>
<polygon fill="#82eb7c" points="183.20,306.50 194.30,306.50 194.30,314.58 183.20,314.58"/>
<polygon fill="#2ed9d0" points="183.20,324.86 194.30,324.86 194.30,340.63 183.20,340.63"/>
<polygon fill="#82eb7c" points="183.20,376.96 194.30,376.96 194.30,392.73 183.20,392.73"/>
<polygon fill="#82eb7c" points="183.20,429.07 194.30,429.07 194.30,444.84 183.20,444.84"/>
<polygon fill="#82eb7c" points="183.20,481.17 194.30,481.17 194.30,496.94 183.20,496.94"/>
<polygon fill="#82eb7c" points="183.20,507.22 194.30,507.22 194.30,514.90 183.20,514.90"/>
<polygon fill="#82eb7c" points="194.30,324.86 205.40,324.86 205.40,340.63 194.30,340.63"/>
<polygon fill="#82eb7c" points="194.30,429.07 205.40,429.07 205.40,444.84 194.30,444.84"/>
<polygon fill="#001d93" points="194.30,444.84 205.40,444.84 205.40,455.12 194.30,455.12"/>
<polygon fill="#82eb7c" points="194.30,481.17 205.40,481.17 205.40,496.94 194.30,496.94"/>
<polygon fill="#82eb7c" points="205.40,340.63 216.50,340.63 216.50,350.91 205.40,350.91"/>
<polygon fill="#58e2a6" points="205.40,444.84 216.50,444.84 216.50,455.12 205.40,455.12"/>
<polygon fill="#82eb7c" points="205.40,470.89 216.50,470.89 216.50,481.17 205.40,481.17"/>
<polygon fill="#82eb7c" points="205.40,481.17 216.50,481.17 216.50,496.94 205.40,496.94"/>
<polygon fill="#82eb7c" points="205.40,496.94 216.50,496.94 216.50,507.22 205.40,507.22"/>
<polygon fill="#82eb7c" points="216.50,340.63 227.60,340.63 227.60,350.91 216.50,350.91"/>
<polygon fill="#82eb7c" points="216.50,444.84 227.60,444.84 227.60,455.12 216.50,455.12"/>
<polygon fill="#82eb7c" points="216.50,455.12 227.60,455.12 227.60,470.89 216.50,470.89"/>
<polygon fill="#82eb7c" points="216.50,481.17 227.60,481.17 227.60,496.94 216.50,496.94"/>
<polygon fill="#82eb7c" points="216.50,496.94 227.60,496.94 227.60,507.22 216.50,507.22"/>
<polygon fill="#82eb7c" points="227.60,324.86 238.70,324.86 238.70,340.63 227.60,340.63"/>
<polygon fill="#82eb7c" points="227.60,340.63 238.70,340.63 238.70,350.91 227.60,350.91"/>
<polygon fill="#82eb7c" points="227.60,481.17 238.70,481.17 238.70,496.94 227.60,496.94"/>
<polygon fill="#82eb7c" points="238.70,324.86 245.60,324.86 245.60,328.40 255.10,328.40 255.10,337.09 245.60,337.09 245.60,340.63 238.70,340.63"/>
<polygon fill="#82eb7c" points="238.70,340.63 245.60,340.63 245.60,337.09 255.10,337.09 255.10,354.45 245.60,354.45 245.60,350.91 238.70,350.91"/>
<polygon fill="#82eb7c" points="238.70,470.89 245.60,470.89 245.60,467.35 255.10,467.35 255.10,484.71 245.60,484.71 245.60,481.17 238.70,481.17"/>
<polygon fill="#82eb7c" points="238.70,481.17 245.60,481.17 245.60,484.71 255.10,484.71 255.10,493.40 245.60,493.40 245.60,496.94 238.70,496.94"/>
<polygon fill="#82eb7c" points="238.70,496.94 245.60,496.94 245.60,493.40 255.10,493.40 255.10,510.76 245.60,510.76 245.60,507.22 238.70,507.22"/>
<polygon fill="#82eb7c" points="255.10,306.50 263.20,306.50 263.20,311.04 255.10,311.04"/>
<polygon fill="#2ed9d0" points="255.10,328.40 263.20,328.40 263.20,337.09 255.10,337.09"/>
<polygon fill="#82eb7c" points="255.10,363.14 263.20,363.14 263.20,380.51 255.10,380.51"/>
<polygon fill="#82eb7c" points="255.10,484.71 263.20,484.71 263.20,493.40 255.10,493.40"/>
<polygon fill="#82eb7c" points="255.10,510.76 263.20,510.76 263.20,514.90 255.10,514.90"/>
<polygon fill="#00b5f0" points="263.20,328.40 274.60,328.40 274.60,337.09 263.20,337.09"/>
<polygon fill="#82eb7c" points="263.20,337.09 274.60,337.09 274.60,354.45 263.20,354.45"/>
<polygon fill="#82eb7c" points="263.20,354.45 274.60,354.45 274.60,363.14 263.20,363.14"/>
<polygon fill="#82eb7c" points="263.20,380.51 274.60,380.51 274.60,389.19 263.20,389.19"/>
<polygon fill="#82eb7c" points="263.20,441.29 274.60,441.29 274.60,458.66 263.20,458.66"/>
<polygon fill="#82eb7c" points="263.20,467.35 274.60,467.35 274.60,484.71 263.20,484.71"/>
<polygon fill="#2ed9d0" points="274.60,328.40 285.80,328.40 285.80,337.09 274.60,337.09"/>
<polygon fill="#82eb7c" points="274.60,306.50 285.80,306.50 285.80,311.04 274.60,311.04"/>
<polygon fill="#82eb7c" points="274.60,337.09 285.80,337.09 285.80,354.45 274.60,354.45"/>
<polygon fill="#82eb7c" points="274.60,354.45 285.80,354.45 285.80,363.14 274.60,363.14"/>
<polygon fill="#82eb7c" points="274.60,380.51 285.80,380.51 285.80,389.19 274.60,389.19"/>
<polygon fill="#82eb7c" points="274.60,389.19 285.80,389.19 285.80,406.56 274.60,406.56"/>
<polygon fill="#82eb7c" points="274.60,415.24 285.80,415.24 285.80,432.61 274.60,432.61"/>
<polygon fill="#82eb7c" points="274.60,441.29 285.80,441.29 285.80,458.66 274.60,458.66"/>
<polygon fill="#82eb7c" points="274.60,458.66 285.80,458.66 285.80,467.35 274.60,467.35"/>
<polygon fill="#82eb7c" points="274.60,467.35 285.80,467.35 285.80,484.71 274.60,484.71"/>
<polygon fill="#82eb7c" points="274.60,493.40 285.80,493.40 285.80,510.76 274.60,510.76"/>
<polygon fill="#82eb7c" points="274.60,510.76 285.80,510.76 285.80,514.90 274.60,514.90"/>
<polygon fill="#82eb7c" points="285.80,306.50 297.90,306.50 297.90,311.04 285.80,311.04"/>
<polygon fill="#82eb7c" points="285.80,311.04 297.90,311.04 297.90,328.40 285.80,328.40"/>
<polygon fill="#82eb7c" points="285.80,328.40 297.90,328.40 297.90,337.09 285.80,337.09"/>
<polygon fill="#82eb7c" points="285.80,406.56 297.90,406.56 297.90,415.24 285.80,415.24"/>
<polygon fill="#82eb7c" points="285.80,458.66 297.90,458.66 297.90,467.35 285.80,467.35"/>
<polygon fill="#82eb7c" points="285.80,510.76 297.90,510.76 297.90,514.90 285.80,514.90"/>
<line x1="67.90" y1="306.50" x2="67.90" y2="514.90" stroke="#000" stroke-width="1.00"/>
<line x1="80.30" y1="306.50" x2="80.30" y2="514.90" stroke="#000" stroke-width="1.00"/>
<line x1="91.50" y1="306.50" x2="91.50" y2="514.90" stroke="#000" stroke-width="1.00"/>
<line x1="102.80" y1="306.50" x2="102.80" y2="514.90" stroke="#000" stroke-width="1.00"/>
<line x1="110.90" y1="306.50" x2="110.90" y2="514.90" stroke="#000" stroke-width="1.00"/>
<line x1="127.70" y1="306.50" x2="127.70" y2="514.90" stroke="#000" stroke-width="1.00"/>
<line x1="138.80" y1="306.50" x2="138.80" y2="514.90" stroke="#000" stroke-width="1.00"/>
<line x1="149.90" y1="306.50" x2="149.90" y2="514.90" stroke="#000" stroke-width="1.00"/>
<line x1="161.00" y1="306.50" x2="161.00" y2="514.90" stroke="#000" stroke-width="1.00"/>
<line x1="172.10" y1="306.50" x2="172.10" y2="514.90" stroke="#000" stroke-width="1.00"/>
<line x1="183.20" y1="306.50" x2="183.20" y2="514.90" stroke="#000" stroke-width="1.00"/>
<line x1="194.30" y1="306.50" x2="194.30" y2="514.90" stroke="#000" stroke-width="1.00"/>
<line x1="205.40" y1="306.50" x2="205.40" y2="514.90" stroke="#000" stroke-width="1.00"/>
<line x1="216.50" y1="306.50" x2="216.50" y2="514.90" stroke="#000" stroke-width="1.00"/>
<line x1="227.60" y1="306.50" x2="227.60" y2="514.90" stroke="#000" stroke-width="1.00"/>
<line x1="238.70" y1="306.50" x2="238.70" y2="514.90" stroke="#000" stroke-width="1.00"/>
<line x1="255.10" y1="306.50" x2="255.10" y2="514.90" stroke="#000" stroke-width="1.00"/>
<line x1="263.20" y1="306.50" x2="263.20" y2="514.90" stroke="#000" stroke-width="1.00"/>
<line x1="274.60" y1="306.50" x2="274.60" y2="514.90" stroke="#000" stroke-width="1.00"/>
<line x1="285.80" y1="306.50" x2="285.80" y2="514.90" stroke="#000" stroke-width="1.00"/>
<line x1="297.90" y1="306.50" x2="297.90" y2="514.90" stroke="#000" stroke-width="1.00"/>
<polyline fill="none" stroke="#000" stroke-width="1.00" points="38.00,311.04 120.20,311.04 120.20,314.58 245.60,314.58 245.60,311.04 327.60,311.04"/>
<polyline fill="none" stroke="#000" stroke-width="1.00" points="38.00,328.40 120.20,328.40 120.20,324.86 245.60,324.86 245.60,328.40 327.60,328.40"/>
<polyline fill="none" stroke="#000" stroke-width="1.00" points="38.00,337.09 120.20,337.09 120.20,340.63 245.60,340.63 245.60,337.09 327.60,337.09"/>
<polyline fill="none" stroke="#000" stroke-width="1.00" points="38.00,354.45 120.20,354.45 120.20,350.91 245.60,350.91 245.60,354.45 327.60,354.45"/>
<polyline fill="none" stroke="#000" stroke-width="1.00" points="38.00,363.14 120.20,363.14 120.20,366.68 245.60,366.68 245.60,363.14 327.60,363.14"/>
<polyline fill="none" stroke="#000" stroke-width="1.00" points="38.00,380.51 120.20,380.51 120.20,376.96 245.60,376.96 245.60,380.51 327.60,380.51"/>
<polyline fill="none" stroke="#000" stroke-width="1.00" points="38.00,389.19 120.20,389.19 120.20,392.73 245.60,392.73 245.60,389.19 327.60,389.19"/>
<polyline fill="none" stroke="#000" stroke-width="1.00" points="38.00,406.56 120.20,406.56 120.20,403.02 245.60,403.02 245.60,406.56 327.60,406.56"/>
<polyline fill="none" stroke="#000" stroke-width="1.00" points="38.00,415.24 120.20,415.24 120.20,418.78 245.60,418.78 245.60,415.24 327.60,415.24"/>
<polyline fill="none" stroke="#000" stroke-width="1.00" points="38.00,432.61 120.20,432.61 120.20,429.07 245.60,429.07 245.60,432.61 327.60,432.61"/>
<polyline fill="none" stroke="#000" stroke-width="1.00" points="38.00,441.29 120.20,441.29 120.20,444.84 245.60,444.84 245.60,441.29 327.60,441.29"/>
<polyline fill="none" stroke="#000" stroke-width="1.00" points="38.00,458.66 120.20,458.66 120.20,455.12 245.60,455.12 245.60,458.66 327.60,458.66"/>
<polyline fill="none" stroke="#000" stroke-width="1.00" points="38.00,467.35 120.20,467.35 120.20,470.89 245.60,470.89 245.60,467.35 327.60,467.35"/>
<polyline fill="none" stroke="#000" stroke-width="1.00" points="38.00,484.71 120.20,484.71 120.20,481.17 245.60,481.17 245.60,484.71 327.60,484.71"/>
<polyline fill="none" stroke="#000" stroke-width="1.00" points="38.00,493.40 120.20,493.40 120.20,496.94 245.60,496.94 245.60,493.40 327.60,493.40"/>
<polyline fill="none" stroke="#000" stroke-width="1.00" points="38.00,510.76 120.20,510.76 120.20,507.22 245.60,507.22 245.60,510.76 327.60,510.76"/>
<line x1="38.00" y1="510.41" x2="46.70" y2="510.41" stroke="#000" stroke-width="0.75"/>
<line x1="327.60" y1="510.41" x2="318.90" y2="510.41" stroke="#000" stroke-width="0.75"/>
<line x1="38.00" y1="503.78" x2="42.30" y2="503.78" stroke="#000" stroke-width="0.75"/>
<line x1="327.60" y1="503.78" x2="323.30" y2="503.78" stroke="#000" stroke-width="0.75"/>
<line x1="38.00" y1="497.14" x2="42.30" y2="497.14" stroke="#000" stroke-width="0.75"/>
<line x1="327.60" y1="497.14" x2="323.30" y2="497.14" stroke="#000" stroke-width="0.75"/>
<line x1="38.00" y1="490.51" x2="42.30" y2="490.51" stroke="#000" stroke-width="0.75"/>
<line x1="327.60" y1="490.51" x2="323.30" y2="490.51" stroke="#000" stroke-width="0.75"/>
<line x1="38.00" y1="483.87" x2="42.30" y2="483.87" stroke="#000" stroke-width="0.75"/>
<line x1="327.60" y1="483.87" x2="323.30" y2="483.87" stroke="#000" stroke-width="0.75"/>
<line x1="38.00" y1="477.24" x2="46.70" y2="477.24" stroke="#000" stroke-width="0.75"/>
<line x1="327.60" y1="477.24" x2="318.90" y2="477.24" stroke="#000" stroke-width="0.75"/>
<line x1="38.00" y1="470.61" x2="42.30" y2="470.61" stroke="#000" stroke-width="0.75"/>
<line x1="327.60" y1="470.61" x2="323.30" y2="470.61" stroke="#000" stroke-width="0.75"/>
<line x1="38.00" y1="463.97" x2="42.30" y2="463.97" stroke="#000" stroke-width="0.75"/>
<line x1="327.60" y1="463.97" x2="323.30" y2="463.97" stroke="#000" stroke-width="0.75"/>
<line x1="38.00" y1="457.34" x2="42.30" y2="457.34" stroke="#000" stroke-width="0.75"/>
<line x1="327.60" y1="457.34" x2="323.30" y2="457.34" stroke="#000" stroke-width="0.75"/>
<line x1="38.00" y1="450.70" x2="42.30" y2="450.70" stroke="#000" stroke-width="0.75"/>
<line x1="327.60" y1="450.70" x2="323.30" y2="450.70" stroke="#000" stroke-width="0.75"/>
<line x1="38.00" y1="444.07" x2="46.70" y2="444.07" stroke="#000" stroke-width="0.75"/>
<line x1="327.60" y1="444.07" x2="318.90" y2="444.07" stroke="#000" stroke-width="0.75"/>
<line x1="38.00" y1="437.44" x2="42.30" y2="437.44" stroke="#000" stroke-width="0.75"/>
<line x1="327.60" y1="437.44" x2="323.30" y2="437.44" stroke="#000" stroke-width="0.75"/>
<line x1="38.00" y1="430.80" x2="42.30" y2="430.80" stroke="#000" stroke-width="0.75"/>
<line x1="327.60" y1="430.80" x2="323.30" y2="430.80" stroke="#000" stroke-width="0.75"/>
<line x1="38.00" y1="424.17" x2="42.30" y2="424.17" stroke="#000" stroke-width="0.75"/>
<line x1="327.60" y1="424.17" x2="323.30" y2="424.17" stroke="#000" stroke-width="0.75"/>
<line x1="38.00" y1="417.53" x2="42.30" y2="417.53" stroke="#000" stroke-width="0.75"/>
<line x1="327.60" y1="417.53" x2="323.30" y2="417.53" stroke="#000" stroke-width="0.75"/>
<line x1="38.00" y1="410.90" x2="46.70" y2="410.90" stroke="#000" stroke-width="0.75"/>
<line x1="327.60" y1="410.90" x2="318.90" y2="410.90" stroke="#000" stroke-width="0.75"/>
<line x1="38.00" y1="404.27" x2="42.30" y2="404.27" stroke="#000" stroke-width="0.75"/>
<line x1="327.60" y1="404.27" x2="323.30" y2="404.27" stroke="#000" stroke-width="0.75"/>
<line x1="38.00" y1="397.63" x2="42.30" y2="397.63" stroke="#000" stroke-width="0.75"/>
<line x1="327.60" y1="397.63" x2="323.30" y2="397.63" stroke="#000" stroke-width="0.75"/>
<line x1="38.00" y1="391.00" x2="42.30" y2="391.00" stroke="#000" stroke-width="0.75"/>
<line x1="327.60" y1="391.00" x2="323.30" y2="391.00" stroke="#000" stroke-width="0.75"/>
<line x1="38.00" y1="384.36" x2="42.30" y2="384.36" stroke="#000" stroke-width="0.75"/>
<line x1="327.60" y1="384.36" x2="323.30" y2="384.36" stroke="#000" stroke-width="0.75"/>
<line x1="38.00" y1="377.73" x2="46.70" y2="377.73" stroke="#000" stroke-width="0.75"/>
<line x1="327.60" y1="377.73" x2="318.90" y2="377.73" stroke="#000" stroke-width="0.75"/>
<line x1="38.00" y1="371.10" x2="42.30" y2="371.10" stroke="#000" stroke-width="0.75"/>
<line x1="327.60" y1="371.10" x2="323.30" y2="371.10" stroke="#000" stroke-width="0.75"/>
<line x1="38.00" y1="364.46" x2="42.30" y2="364.46" stroke="#000" stroke-width="0.75"/>
<line x1="327.60" y1="364.46" x2="323.30" y2="364.46" stroke="#000" stroke-width="0.75"/>
<line x1="38.00" y1="357.83" x2="42.30" y2="357.83" stroke="#000" stroke-width="0.75"/>
<line x1="327.60" y1="357.83" x2="323.30" y2="357.83" stroke="#000" stroke-width="0.75"/>
<line x1="38.00" y1="351.19" x2="42.30" y2="351.19" stroke="#000" stroke-width="0.75"/>
<line x1="327.60" y1="351.19" x2="323.30" y2="351.19" stroke="#000" stroke-width="0.75"/>
<line x1="38.00" y1="344.56" x2="46.70" y2="344.56" stroke="#000" stroke-width="0.75"/>
<line x1="327.60" y1="344.56" x2="318.90" y2="344.56" stroke="#000" stroke-width="0.75"/>
<line x1="38.00" y1="337.93" x2="42.30" y2="337.93" stroke="#000" stroke-width="0.75"/>
<line x1="327.60" y1="337.93" x2="323.30" y2="337.93" stroke="#000" stroke-width="0.75"/>
<line x1="38.00" y1="331.29" x2="42.30" y2="331.29" stroke="#000" stroke-width="0.75"/>
<line x1="327.60" y1="331.29" x2="323.30" y2="331.29" stroke="#000" stroke-width="0.75"/>
<line x1="38.00" y1="324.66" x2="42.30" y2="324.66" stroke="#000" stroke-width="0.75"/>
<line x1="327.60" y1="324.66" x2="323.30" y2="324.66" stroke="#000" stroke-width="0.75"/>
<line x1="38.00" y1="318.02" x2="42.30" y2="318.02" stroke="#000" stroke-width="0.75"/>
<line x1="327.60" y1="318.02" x2="323.30" y2="318.02" stroke="#000" stroke-width="0.75"/>
<line x1="38.00" y1="311.39" x2="46.70" y2="311.39" stroke="#000" stroke-width="0.75"/>
<line x1="327.60" y1="311.39" x2="318.90" y2="311.39" stroke="#000" stroke-width="0.75"/>
<line x1="46.44" y1="514.90" x2="46.44" y2="511.90" stroke="#000" stroke-width="0.75"/>
<line x1="46.44" y1="306.50" x2="46.44" y2="309.50" stroke="#000" stroke-width="0.75"/>
<line x1="56.96" y1="514.90" x2="56.96" y2="511.90" stroke="#000" stroke-width="0.75"/>
<line x1="56.96" y1="306.50" x2="56.96" y2="309.50" stroke="#000" stroke-width="0.75"/>
<line x1="67.48" y1="514.90" x2="67.48" y2="511.90" stroke="#000" stroke-width="0.75"/>
<line x1="67.48" y1="306.50" x2="67.48" y2="309.50" stroke="#000" stroke-width="0.75"/>
<line x1="78.00" y1="514.90" x2="78.00" y2="508.90" stroke="#000" stroke-width="0.75"/>
<line x1="78.00" y1="306.50" x2="78.00" y2="312.50" stroke="#000" stroke-width="0.75"/>
<line x1="88.52" y1="514.90" x2="88.52" y2="511.90" stroke="#000" stroke-width="0.75"/>
<line x1="88.52" y1="306.50" x2="88.52" y2="309.50" stroke="#000" stroke-width="0.75"/>
<line x1="99.04" y1="514.90" x2="99.04" y2="511.90" stroke="#000" stroke-width="0.75"/>
<line x1="99.04" y1="306.50" x2="99.04" y2="309.50" stroke="#000" stroke-width="0.75"/>
<line x1="109.56" y1="514.90" x2="109.56" y2="511.90" stroke="#000" stroke-width="0.75"/>
<line x1="109.56" y1="306.50" x2="109.56" y2="309.50" stroke="#000" stroke-width="0.75"/>
<line x1="120.08" y1="514.90" x2="120.08" y2="511.90" stroke="#000" stroke-width="0.75"/>
<line x1="120.08" y1="306.50" x2="120.08" y2="309.50" stroke="#000" stroke-width="0.75"/>
<line x1="130.60" y1="514.90" x2="130.60" y2="508.90" stroke="#000" stroke-width="0.75"/>
<line x1="130.60" y1="306.50" x2="130.60" y2="312.50" stroke="#000" stroke-width="0.75"/>
<line x1="141.12" y1="514.90" x2="141.12" y2="511.90" stroke="#000" stroke-width="0.75"/>
<line x1="141.12" y1="306.50" x2="141.12" y2="309.50" stroke="#000" stroke-width="0.75"/>
<line x1="151.64" y1="514.90" x2="151.64" y2="511.90" stroke="#000" stroke-width="0.75"/>
<line x1="151.64" y1="306.50" x2="151.64" y2="309.50" stroke="#000" stroke-width="0.75"/>
<line x1="162.16" y1="514.90" x2="162.16" y2="511.90" stroke="#000" stroke-width="0.75"/>
<line x1="162.16" y1="306.50" x2="162.16" y2="309.50" stroke="#000" stroke-width="0.75"/>
<line x1="172.68" y1="514.90" x2="172.68" y2="511.90" stroke="#000" stroke-width="0.75"/>
<line x1="172.68" y1="306.50" x2="172.68" y2="309.50" stroke="#000" stroke-width="0.75"/>
<line x1="183.20" y1="514.90" x2="183.20" y2="508.90" stroke="#000" stroke-width="0.75"/>
<line x1="183.20" y1="306.50" x2="183.20" y2="312.50" stroke="#000" stroke-width="0.75"/>
<line x1="193.72" y1="514.90" x2="193.72" y2="511.90" stroke="#000" stroke-width="0.75"/>
<line x1="193.72" y1="306.50" x2="193.72" y2="309.50" stroke="#000" stroke-width="0.75"/>
<line x1="204.24" y1="514.90" x2="204.24" y2="511.90" stroke="#000" stroke-width="0.75"/>
<line x1="204.24" y1="306.50" x2="204.24" y2="309.50" stroke="#000" stroke-width="0.75"/>
<line x1="214.76" y1="514.90" x2="214.76" y2="511.90" stroke="#000" stroke-width="0.75"/>
<line x1="214.76" y1="306.50" x2="214.76" y2="309.50" stroke="#000" stroke-width="0.75"/>
<line x1="225.28" y1="514.90" x2="225.28" y2="511.90" stroke="#000" stroke-width="0.75"/>
<line x1="225.28" y1="306.50" x2="225.28" y2="309.50" stroke="#000" stroke-width="0.75"/>
<line x1="235.80" y1="514.90" x2="235.80" y2="508.90" stroke="#000" stroke-width="0.75"/>
<line x1="235.80" y1="306.50" x2="235.80" y2="312.50" stroke="#000" stroke-width="0.75"/>
<line x1="246.32" y1="514.90" x2="246.32" y2="511.90" stroke="#000" stroke-width="0.75"/>
<line x1="246.32" y1="306.50" x2="246.32" y2="309.50" stroke="#000" stroke-width="0.75"/>
<line x1="256.84" y1="514.90" x2="256.84" y2="511.90" stroke="#000" stroke-width="0.75"/>
<line x1="256.84" y1="306.50" x2="256.84" y2="309.50" stroke="#000" stroke-width="0.75"/>
<line x1="267.36" y1="514.90" x2="267.36" y2="511.90" stroke="#000" stroke-width="0.75"/>
<line x1="267.36" y1="306.50" x2="267.36" y2="309.50" stroke="#000" stroke-width="0.75"/>
<line x1="277.88" y1="514.90" x2="277.88" y2="511.90" stroke="#000" stroke-width="0.75"/>
<line x1="277.88" y1="306.50" x2="277.88" y2="309.50" stroke="#000" stroke-width="0.75"/>
<line x1="288.40" y1="514.90" x2="288.40" y2="508.90" stroke="#000" stroke-width="0.75"/>
<line x1="288.40" y1="306.50" x2="288.40" y2="312.50" stroke="#000" stroke-width="0.75"/>
<line x1="298.92" y1="514.90" x2="298.92" y2="511.90" stroke="#000" stroke-width="0.75"/>
<line x1="298.92" y1="306.50" x2="298.92" y2="309.50" stroke="#000" stroke-width="0.75"/>
<line x1="309.44" y1="514.90" x2="309.44" y2="511.90" stroke="#000" stroke-width="0.75"/>
<line x1="309.44" y1="306.50" x2="309.44" y2="309.50" stroke="#000" stroke-width="0.75"/>
<line x1="319.96" y1="514.90" x2="319.96" y2="511.90" stroke="#000" stroke-width="0.75"/>
<line x1="319.96" y1="306.50" x2="319.96" y2="309.50" stroke="#000" stroke-width="0.75"/>
<line x1="37.60" y1="305.90" x2="37.60" y2="515.30" stroke="#b8b8d8" stroke-width="0.80"/>
<line x1="37.60" y1="306.20" x2="327.60" y2="306.20" stroke="#303048" stroke-width="1.00"/>
<line x1="37.60" y1="515.10" x2="327.60" y2="515.10" stroke="#404050" stroke-width="0.80"/>
<line x1="37.60" y1="515.80" x2="339.60" y2="515.80" stroke="#c8c8e0" stroke-width="0.60"/>
<defs><linearGradient id="g279" x1="0" y1="1" x2="0" y2="0"><stop offset="0.000%" stop-color="#001d93"/><stop offset="5.000%" stop-color="#001d93"/><stop offset="5.000%" stop-color="#003ca6"/><stop offset="10.000%" stop-color="#003ca6"/><stop offset="10.000%" stop-color="#005bb9"/><stop offset="15.000%" stop-color="#005bb9"/><stop offset="15.000%" stop-color="#0077ca"/><stop offset="20.000%" stop-color="#0077ca"/><stop offset="20.000%" stop-color="#0096dd"/><stop offset="25.000%" stop-color="#0096dd"/><stop offset="25.000%" stop-color="#00b5f0"/><stop offset="30.000%" stop-color="#00b5f0"/><stop offset="30.000%" stop-color="#07d0f8"/><stop offset="35.000%" stop-color="#07d0f8"/><stop offset="35.000%" stop-color="#2ed9d0"/><stop offset="40.000%" stop-color="#2ed9d0"/><stop offset="40.000%" stop-color="#58e2a6"/><stop offset="45.000%" stop-color="#58e2a6"/><stop offset="45.000%" stop-color="#82eb7c"/><stop offset="50.000%" stop-color="#82eb7c"/><stop offset="50.000%" stop-color="#acf451"/><stop offset="55.000%" stop-color="#acf451"/><stop offset="55.000%" stop-color="#d2fd2a"/><stop offset="60.000%" stop-color="#d2fd2a"/><stop offset="60.000%" stop-color="#e3de1a"/><stop offset="65.000%" stop-color="#e3de1a"/><stop offset="65.000%" stop-color="#ebb113"/><stop offset="70.000%" stop-color="#ebb113"/><stop offset="70.000%" stop-color="#f2840c"/><stop offset="75.000%" stop-color="#f2840c"/><stop offset="75.000%" stop-color="#f95a06"/><stop offset="80.000%" stop-color="#f95a06"/><stop offset="80.000%" stop-color="#f93100"/><stop offset="85.000%" stop-color="#f93100"/><stop offset="85.000%" stop-color="#d22000"/><stop offset="90.000%" stop-color="#d22000"/><stop offset="90.000%" stop-color="#aa1000"/><stop offset="95.000%" stop-color="#aa1000"/><stop offset="95.000%" stop-color="#850100"/><stop offset="100.000%" stop-color="#850100"/></linearGradient></defs>
<rect x="327.60" y="306.50" width="12.00" height="208.40" fill="url(#g279)"/>
<line x1="339.60" y1="306.50" x2="339.60" y2="514.90" stroke="#000" stroke-width="1.00"/>
<line x1="339.60" y1="323.87" x2="331.10" y2="323.87" stroke="#000" stroke-width="1.00"/>
<text x="341.30" y="328.67" font-size="11.00" text-anchor="start" font-weight="normal" font-style="normal">1.1</text>
<line x1="339.60" y1="367.28" x2="331.10" y2="367.28" stroke="#000" stroke-width="1.00"/>
<text x="341.30" y="372.08" font-size="11.00" text-anchor="start" font-weight="normal" font-style="normal">1.05</text>
<line x1="339.60" y1="410.70" x2="331.10" y2="410.70" stroke="#000" stroke-width="1.00"/>
<text x="341.30" y="415.50" font-size="11.00" text-anchor="start" font-weight="normal" font-style="normal">1</text>
<line x1="339.60" y1="454.12" x2="331.10" y2="454.12" stroke="#000" stroke-width="1.00"/>
<text x="341.30" y="458.92" font-size="11.00" text-anchor="start" font-weight="normal" font-style="normal">0.95</text>
<line x1="339.60" y1="497.53" x2="331.10" y2="497.53" stroke="#000" stroke-width="1.00"/>
<text x="341.30" y="502.33" font-size="11.00" text-anchor="start" font-weight="normal" font-style="normal">0.9</text>
<text transform="translate(382.70,384.60) rotate(-90)" font-size="14.30">Scale Factor</text>
<text x="33.00" y="316.19" font-size="11.00" text-anchor="end" font-weight="normal" font-style="normal">3</text>
<text x="33.00" y="349.36" font-size="11.00" text-anchor="end" font-weight="normal" font-style="normal">2</text>
<text x="33.00" y="382.53" font-size="11.00" text-anchor="end" font-weight="normal" font-style="normal">1</text>
<text x="33.00" y="415.70" font-size="11.00" text-anchor="end" font-weight="normal" font-style="normal">0</text>
<text x="33.00" y="448.87" font-size="11.00" text-anchor="end" font-weight="normal" font-style="normal">-1</text>
<text x="33.00" y="482.04" font-size="11.00" text-anchor="end" font-weight="normal" font-style="normal">-2</text>
<text x="33.00" y="515.21" font-size="11.00" text-anchor="end" font-weight="normal" font-style="normal">-3</text>
<text x="78.00" y="529.00" font-size="11.00" text-anchor="middle" font-weight="normal" font-style="normal">-2</text>
<text x="130.60" y="529.00" font-size="11.00" text-anchor="middle" font-weight="normal" font-style="normal">-1</text>
<text x="183.20" y="529.00" font-size="11.00" text-anchor="middle" font-weight="normal" font-style="normal">0</text>
<text x="235.80" y="529.00" font-size="11.00" text-anchor="middle" font-weight="normal" font-style="normal">1</text>
<text x="288.40" y="529.00" font-size="11.00" text-anchor="middle" font-weight="normal" font-style="normal">2</text>
<g transform="translate(9.4,310.20)"><ellipse cx="0" cy="0" rx="3.4" ry="2.7" fill="none" stroke="#000" stroke-width="1.1"/><line x1="-6.3" y1="0" x2="6.3" y2="0" stroke="#000" stroke-width="0.9"/></g>
<text x="320.0" y="541.40" font-size="14" font-family="Liberation Serif, serif">&#951;</text>
<text x="41.80" y="289.00" font-size="10.80" text-anchor="start" font-weight="bold" font-style="italic">ATLAS</text>
<text x="41.90" y="301.60" font-size="10.70" text-anchor="start" font-weight="normal" font-style="normal">Chain 1 CB + ST Muons</text>
<text x="173.90" y="289.60" font-size="10.45" text-anchor="start" font-weight="normal" font-style="normal">2012 Data</text>
<polyline fill="none" stroke="#000" stroke-width="0.9" points="174.30,297.20 175.60,296.50 177.20,301.40 178.40,293.00 184.30,293.00"/>
<text x="178.50" y="301.40" font-size="10.65" text-anchor="start" font-weight="normal" font-style="normal" letter-spacing="0.15">s = 8 TeV</text>
<text x="271.00" y="295.10" font-size="10.65" text-anchor="start" font-weight="normal" font-style="normal">L = 20.3 fb<tspan font-size="7" dy="-5.2">-1</tspan></text>
</svg></body></html>
